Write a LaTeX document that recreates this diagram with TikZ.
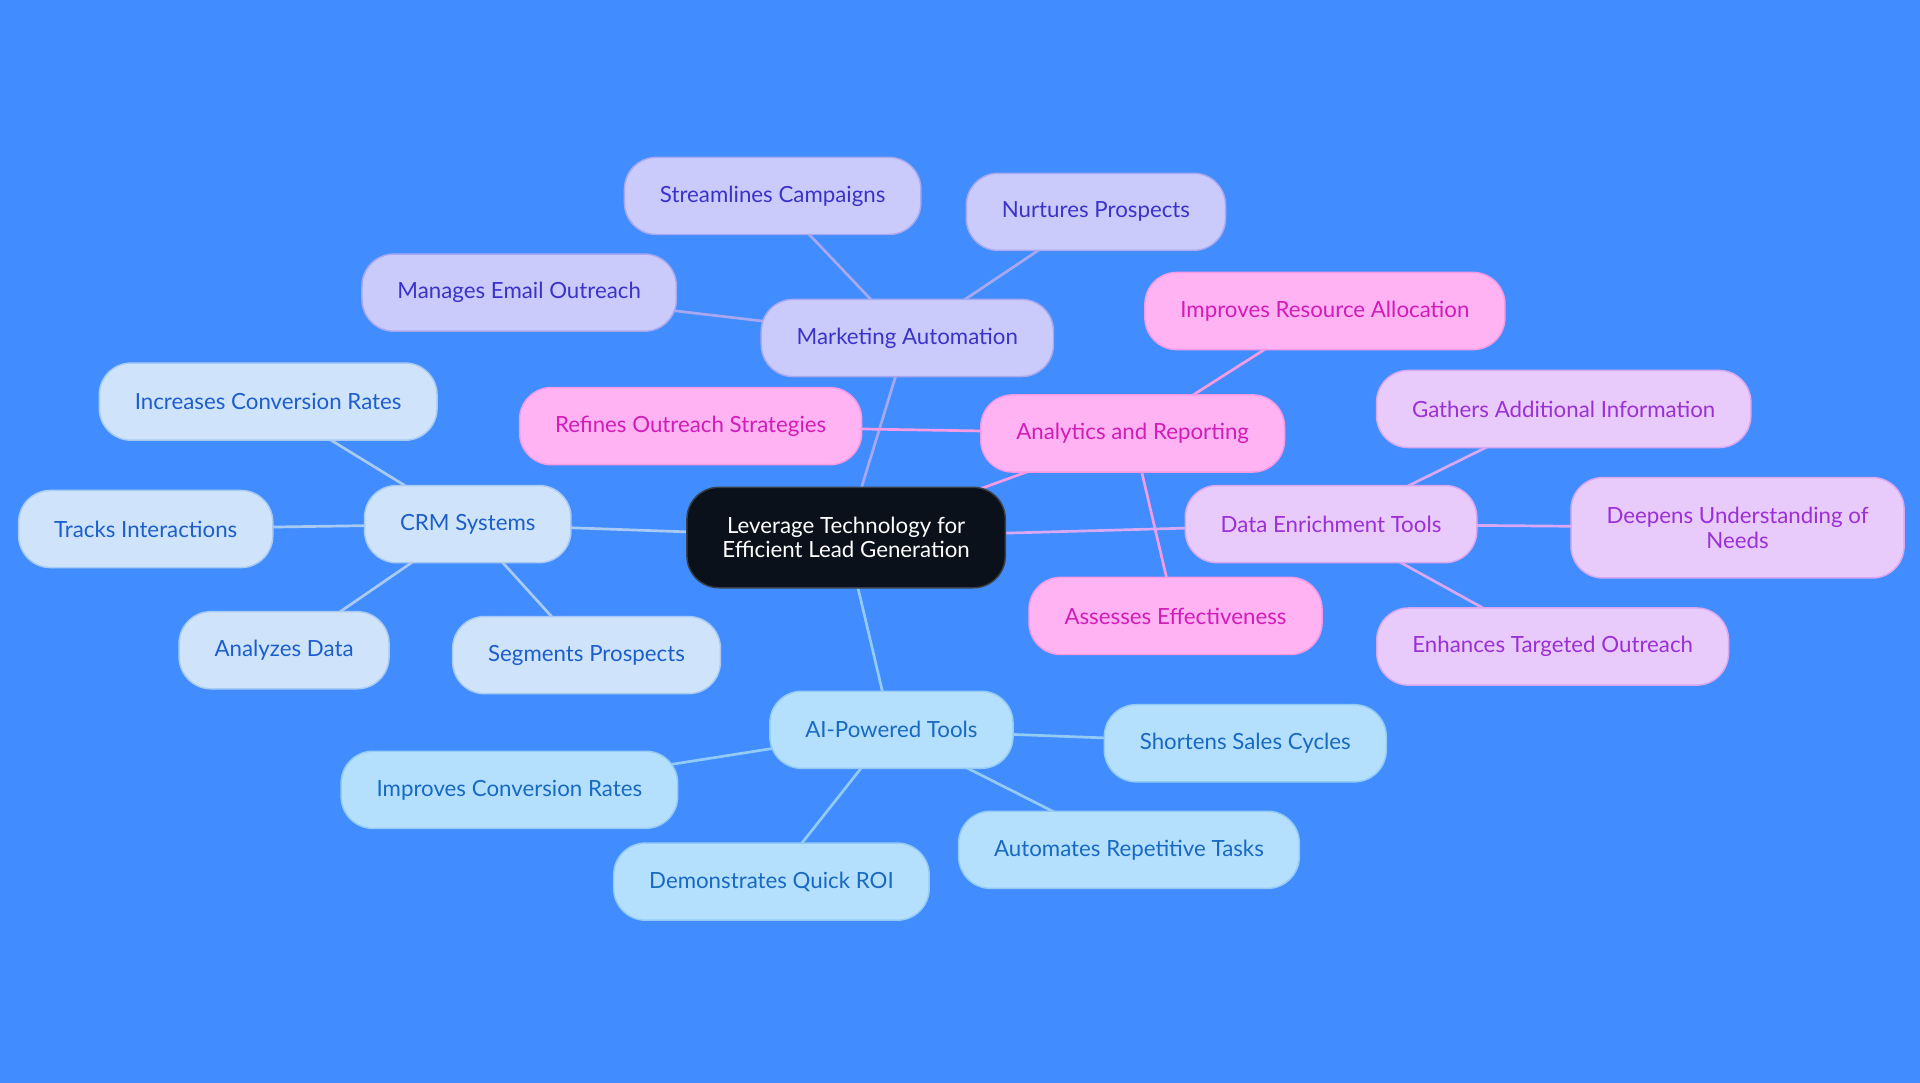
\documentclass[tikz,border=0pt]{standalone}
\usepackage{fontspec}
\setmainfont{Lato}
\usepackage{tikz}
\definecolor{bgblue}{HTML}{418DFF}
\definecolor{rootfill}{HTML}{0B111B}
\definecolor{rootline}{HTML}{3A4048}
\definecolor{mafill}{HTML}{CACBFB}
\definecolor{maline}{HTML}{A8A8F0}
\definecolor{matext}{HTML}{3B33C9}
\definecolor{arfill}{HTML}{FFB3F3}
\definecolor{arline}{HTML}{F59BE6}
\definecolor{artext}{HTML}{D11CB8}
\definecolor{defill}{HTML}{E8CAFB}
\definecolor{deline}{HTML}{D9A8F2}
\definecolor{detext}{HTML}{9A30D6}
\definecolor{crmfill}{HTML}{CFE4FB}
\definecolor{crmline}{HTML}{A9CBF3}
\definecolor{crmtext}{HTML}{1C5ECB}
\definecolor{aifill}{HTML}{B5E0FD}
\definecolor{ailine}{HTML}{93CBF5}
\definecolor{aitext}{HTML}{1769C2}
\pgfdeclarelayer{edgelayer}
\pgfsetlayers{edgelayer,main}

\begin{document}
\begin{tikzpicture}[x=1pt,y=-1pt,
    box/.style={rounded corners=26pt,draw,line width=1.2pt,inner xsep=29pt,
                minimum height=63pt,align=center,font=\fontsize{18.2}{20}\selectfont},
    root node/.style={box,fill=rootfill,draw=rootline,text=white,minimum height=82pt},
    ma node/.style={box,fill=mafill,draw=maline,text=matext},
    ar node/.style={box,fill=arfill,draw=arline,text=artext},
    de node/.style={box,fill=defill,draw=deline,text=detext},
    crm node/.style={box,fill=crmfill,draw=crmline,text=crmtext},
    ai node/.style={box,fill=aifill,draw=ailine,text=aitext},
    ma edge/.style={draw=maline,line width=2.2pt},
    ar edge/.style={draw=arline,line width=2.2pt},
    de edge/.style={draw=deline,line width=2.2pt},
    crm edge/.style={draw=crmline,line width=2.2pt},
    ai edge/.style={draw=ailine,line width=2.2pt}]

  \useasboundingbox (0,0) rectangle (1568,884.4);

  \node[root node] (root) at (691,439) {Leverage Technology for\\Efficient Lead Generation};

  % marketing automation
  \node[ma node] (ma) at (741,276) {Marketing Automation};
  \node[ma node] (ma1) at (631,160) {Streamlines Campaigns};
  \node[ma node] (ma2) at (895,173) {Nurtures Prospects};
  \node[ma node] (ma3) at (424,239) {Manages Email Outreach};

  % analytics
  \node[ar node] (ar) at (925,354) {Analytics and Reporting};
  \node[ar node] (ar1) at (1082,254) {Improves Resource Allocation};
  \node[ar node] (ar2) at (564,348) {Refines Outreach Strategies};
  \node[ar node] (ar3) at (960,503) {Assesses Effectiveness};

  % data enrichment
  \node[de node] (de) at (1087,428) {Data Enrichment Tools};
  \node[de node] (de1) at (1277,334) {Gathers Additional Information};
  \node[de node, minimum height=82pt] (de2) at (1419,431) {Deepens Understanding of\\Needs};
  \node[de node] (de3) at (1268,528) {Enhances Targeted Outreach};

  % crm
  \node[crm node] (crm) at (382,428) {CRM Systems};
  \node[crm node] (crm1) at (219,328) {Increases Conversion Rates};
  \node[crm node] (crm2) at (119,432) {Tracks Interactions};
  \node[crm node] (crm3) at (232,531) {Analyzes Data};
  \node[crm node] (crm4) at (479,535) {Segments Prospects};

  % ai tools
  \node[ai node] (ai) at (728,596) {AI-Powered Tools};
  \node[ai node] (ai1) at (1017,607) {Shortens Sales Cycles};
  \node[ai node] (ai2) at (416,645) {Improves Conversion Rates};
  \node[ai node] (ai3) at (630,720) {Demonstrates Quick ROI};
  \node[ai node] (ai4) at (922,694) {Automates Repetitive Tasks};

  \begin{pgfonlayer}{edgelayer}
    \fill[bgblue] (0,0) rectangle (1568,884.4);
    \path[ma edge] (root.center) edge (ma.center)
      (ma.center) edge (ma1.center) edge (ma2.center) edge (ma3.center);
    \path[ar edge] (root.center) edge (ar.center)
      (ar.center) edge (ar1.center) edge (ar2.center) edge (ar3.center);
    \path[de edge] (root.center) edge (de.center)
      (de.center) edge (de1.center) edge (de2.center) edge (de3.center);
    \path[crm edge] (root.center) edge (crm.center)
      (crm.center) edge (crm1.center) edge (crm2.center) edge (crm3.center) edge (crm4.center);
    \path[ai edge] (root.center) edge (ai.center)
      (ai.center) edge (ai1.center) edge (ai2.center) edge (ai3.center) edge (ai4.center);
  \end{pgfonlayer}
\end{tikzpicture}
\end{document}
